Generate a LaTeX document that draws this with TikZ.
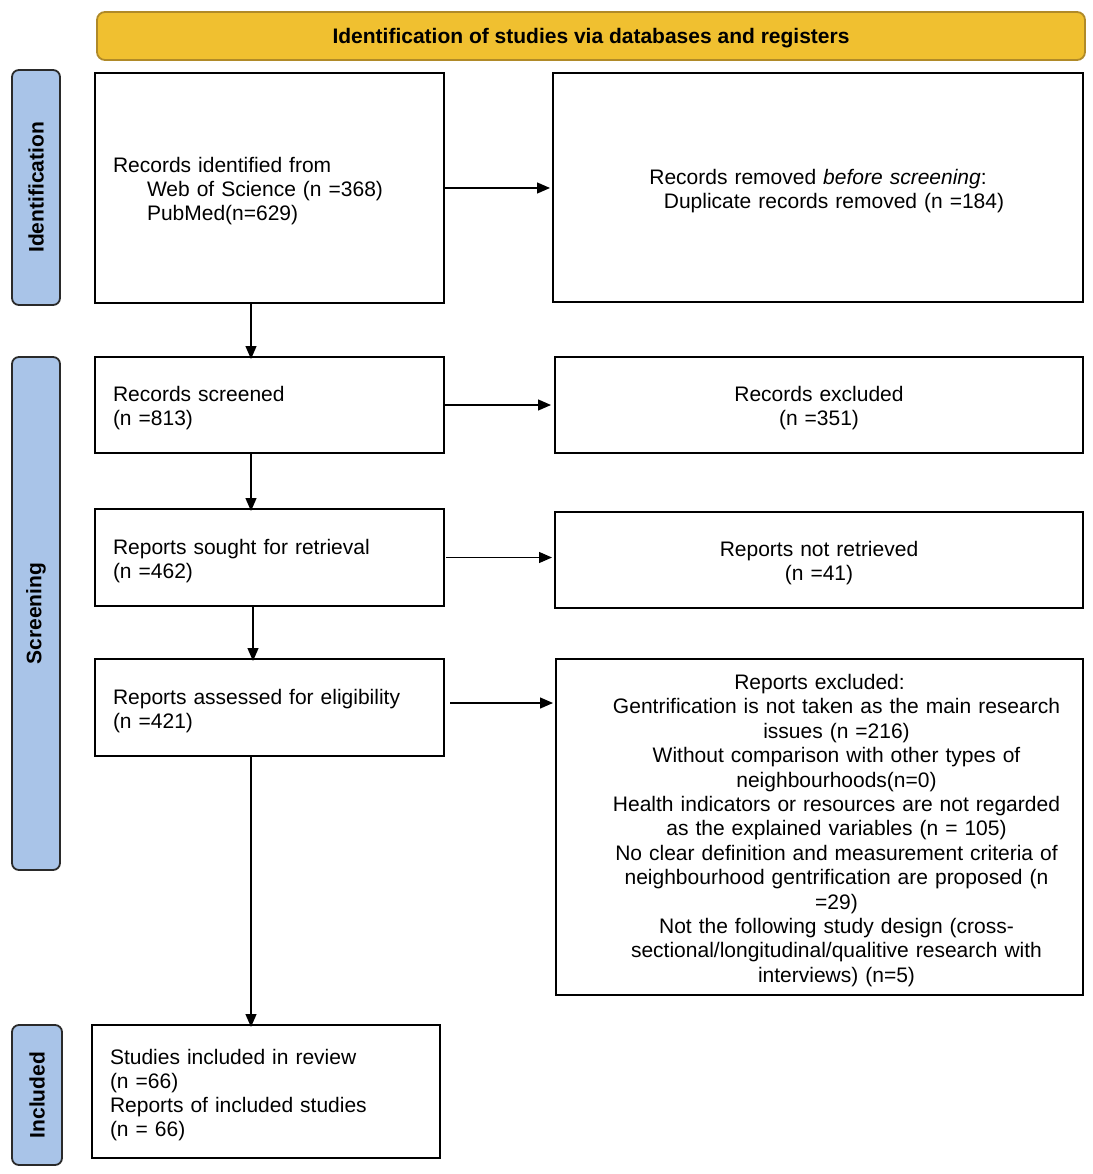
\documentclass[tikz,border=0pt]{standalone}
\usepackage{fontspec}
\setmainfont{Liberation Sans}
\usetikzlibrary{arrows.meta,calc}
\definecolor{hdrfill}{HTML}{F0C030}
\definecolor{hdrline}{HTML}{B08A28}
\definecolor{sidefill}{HTML}{A9C4E8}
\definecolor{sideline}{HTML}{2A2A2A}
\newcommand\topgap{\rule{0pt}{22pt}}
\newcommand\shr{\hspace*{34pt}}
\begin{document}
\begin{tikzpicture}[x=1pt,y=-1pt,
  every node/.style={font=\fontsize{21}{24}\selectfont},
  box/.style={draw=black,line width=1.8pt,fill=white,inner ysep=0pt,outer sep=0pt},
  lbox/.style={box,align=left,inner xsep=18pt},
  cbox/.style={box,align=center,inner xsep=4pt},
  side/.style={draw=sideline,line width=1.8pt,fill=sidefill,rounded corners=7pt,
    minimum height=48pt,inner sep=0pt,rotate=90,
    font=\fontsize{21}{24}\selectfont\bfseries},
  arr/.style={-{Triangle[length=13pt,width=11pt]},line width=1.3pt}
]
\path[use as bounding box] (0,0) rectangle (1092,1174);

% header
\node[draw=hdrline,line width=1.8pt,fill=hdrfill,rounded corners=8pt,
  minimum width=988pt,minimum height=48pt,inner sep=0pt,
  font=\fontsize{21}{24}\selectfont\bfseries] (hdr) at (591,36)
  {\rule{0pt}{19.5pt}Identification of studies via databases and registers};

% side labels
\node[side,minimum width=235pt] (sideI) at (36,187.5) {Identification};
\node[side,minimum width=513pt] (sideS) at (36,613.5) {Screening};
\node[side,minimum width=140pt,minimum height=50pt] (sideN) at (37,1095) {Included};

% boxes
\node[lbox,minimum width=349pt,minimum height=230pt,text width=313pt] (B1) at (269.5,188)
  {\topgap Records identified from\\
   \hspace*{34pt}Web of Science (n =368)\\
   \hspace*{34pt}PubMed(n=629)};
\node[cbox,minimum width=530pt,minimum height=229pt,text width=520pt] (B2) at (818,187.5)
  {\topgap Records removed \textit{before screening}:\\
   \hspace*{32pt}Duplicate records removed (n =184)};

\node[lbox,minimum width=349pt,minimum height=96pt,text width=313pt] (B3) at (269.5,405)
  {\topgap Records screened\\(n =813)};
\node[cbox,minimum width=528pt,minimum height=96pt,text width=518pt] (B4) at (819,405)
  {\topgap Records excluded\\(n =351)};

\node[lbox,minimum width=349pt,minimum height=97pt,text width=313pt] (B5) at (269.5,557.5)
  {\topgap Reports sought for retrieval\\(n =462)};
\node[cbox,minimum width=528pt,minimum height=96pt,text width=518pt] (B6) at (819,560)
  {\topgap Reports not retrieved\\(n =41)};

\node[lbox,minimum width=349pt,minimum height=97pt,text width=313pt] (B7) at (269.5,707.5)
  {\topgap Reports assessed for eligibility\\(n =421)};
\node[cbox,minimum width=527pt,minimum height=336pt,text width=517pt,
  font=\fontsize{21}{24.4}\selectfont] (B8) at (819.5,827)
  {\topgap Reports excluded:\\
   \shr Gentrification is not taken as the main research\\
   \shr issues (n =216)\\
   \shr Without comparison with other types of\\
   \shr neighbourhoods(n=0)\\
   \shr Health indicators or resources are not regarded\\
   \shr as the explained variables (n = 105)\\
   \shr No clear definition and measurement criteria of\\
   \shr neighbourhood gentrification are proposed (n\\
   \shr =29)\\
   \shr Not the following study design (cross-\\
   \shr sectional/longitudinal/qualitive research with\\
   \shr interviews) (n=5)};

\node[lbox,minimum width=348pt,minimum height=133pt,text width=312pt] (B9) at (266,1091.5)
  {\topgap Studies included in review\\(n =66)\\Reports of included studies\\(n = 66)};

% connectors
\draw[arr] (B1.east) -- ([xshift=-3pt]B2.west |- B1.east);
\draw[arr] (B3.east) -- ([xshift=-4pt]B4.west |- B3.east);
\draw[arr,shorten <=2pt] (B5.east) -- ([xshift=-3pt]B6.west |- B5.east);
\draw[arr,shorten <=6pt] ([yshift=4.5pt]B7.east) -- ([xshift=-3pt,yshift=4.5pt]B8.west |- B7.east);

\draw[arr] ([xshift=-18.5pt]B1.south) -- ([xshift=-18.5pt,yshift=-2pt]B1.south |- B3.north);
\draw[arr] ([xshift=-18.5pt]B3.south) -- ([xshift=-18.5pt,yshift=-2pt]B3.south |- B5.north);
\draw[arr] ([xshift=-16.5pt]B5.south) -- ([xshift=-16.5pt,yshift=-2pt]B5.south |- B7.north);
\draw[arr] ([xshift=-18.5pt]B7.south) -- ([xshift=-18.5pt,yshift=-2pt]B7.south |- B9.north);
\end{tikzpicture}
\end{document}
